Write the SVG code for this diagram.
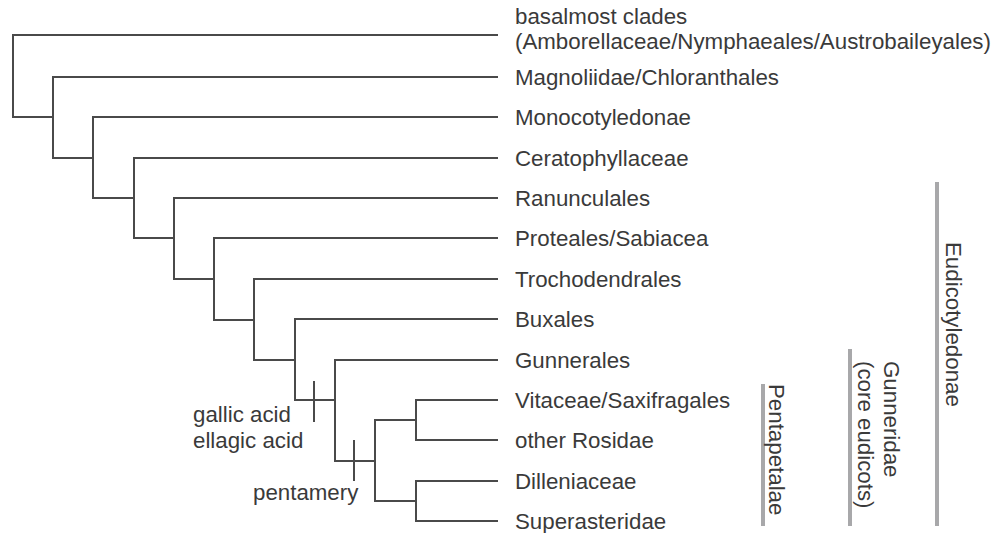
<svg xmlns="http://www.w3.org/2000/svg" width="994" height="533" viewBox="0 0 994 533">
<style>
.br{fill:none;stroke:#4a4a4a;stroke-width:2;stroke-linecap:square}
.t{font-family:"Liberation Sans",Arial,sans-serif;font-size:22.3px;fill:#3a3a3a}
.bar{stroke:#a8a8aa;stroke-width:4}
</style>
<rect width="994" height="533" fill="#fff"/>
<g id="connectors">
<path class="br" d="M497,35H13V117H53"/>
<path class="br" d="M497,77H53V158H93"/>
<path class="br" d="M497,117H93V198H134"/>
<path class="br" d="M497,158H134V238H174"/>
<path class="br" d="M497,198H174V279H214"/>
<path class="br" d="M497,238H214V320H254"/>
<path class="br" d="M497,279H254V360H295"/>
<path class="br" d="M497,319H295V400H335"/>
<path class="br" d="M497,360H335V461H375"/>
<path class="br" d="M416,420H375V501H416"/>
<path class="br" d="M497,400H416V440H497"/>
<path class="br" d="M497,481H416V521H497"/>
<path class="br" d="M314,382V421"/>
<path class="br" d="M354,441V480"/>
</g>
<g id="tip-basal"><text class="t" x="515" y="24">basalmost clades</text><text class="t" x="515" y="49">(Amborellaceae/Nymphaeales/Austrobaileyales)</text></g>
<g id="tip-magnoliidae"><text class="t" x="515" y="85">Magnoliidae/Chloranthales</text></g>
<g id="tip-monocot"><text class="t" x="515" y="125">Monocotyledonae</text></g>
<g id="tip-cerato"><text class="t" x="515" y="166">Ceratophyllaceae</text></g>
<g id="tip-ranunc"><text class="t" x="515" y="206">Ranunculales</text></g>
<g id="tip-proteales"><text class="t" x="515" y="246">Proteales/Sabiacea</text></g>
<g id="tip-trocho"><text class="t" x="515" y="287">Trochodendrales</text></g>
<g id="tip-buxales"><text class="t" x="515" y="327">Buxales</text></g>
<g id="tip-gunnerales"><text class="t" x="515" y="368">Gunnerales</text></g>
<g id="tip-vitaceae"><text class="t" x="515" y="408">Vitaceae/Saxifragales</text></g>
<g id="tip-rosidae"><text class="t" x="515" y="448">other Rosidae</text></g>
<g id="tip-dillen"><text class="t" x="515" y="489">Dilleniaceae</text></g>
<g id="tip-super"><text class="t" x="515" y="529">Superasteridae</text></g>
<g id="char-gallic"><text class="t" x="193" y="422">gallic acid</text><text class="t" x="193" y="448">ellagic acid</text></g>
<g id="char-pentamery"><text class="t" x="253" y="500">pentamery</text></g>
<g id="clade-eudicots"><line class="bar" x1="937" y1="182" x2="937" y2="526"/><text class="t" transform="translate(946,242) rotate(90)">Eudicotyledonae</text></g>
<g id="clade-gunneridae"><line class="bar" x1="850" y1="349" x2="850" y2="526"/><text class="t" transform="translate(884,361) rotate(90)">Gunneridae</text><text class="t" transform="translate(858,361) rotate(90)">(core eudicots)</text></g>
<g id="clade-pentapetalae"><line class="bar" x1="763" y1="384" x2="763" y2="526"/><text class="t" transform="translate(769,384) rotate(90)">Pentapetalae</text></g>
</svg>
